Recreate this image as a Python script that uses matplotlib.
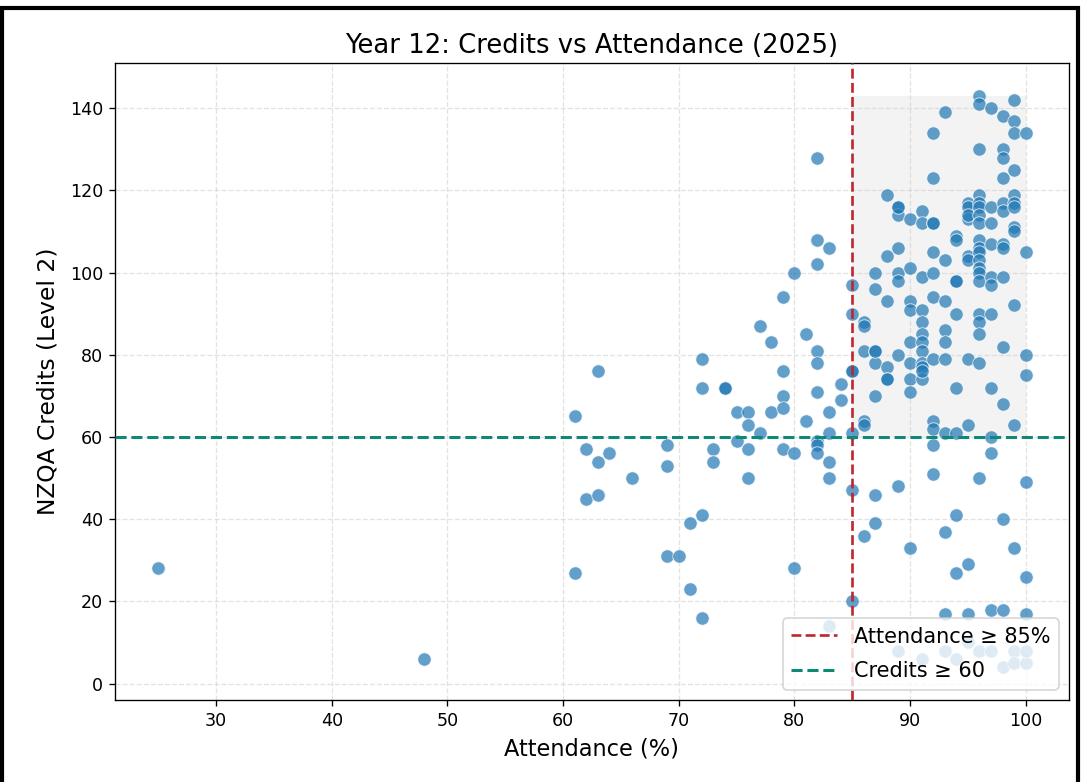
import matplotlib
matplotlib.use("Agg")
import matplotlib.pyplot as plt
from matplotlib.patches import Rectangle

# ---- data (attendance %, credits) ----
attendance = [
    25, 48,
    61, 61, 62, 62, 63, 63, 63, 64, 66,
    69, 69, 69, 70, 71, 71, 72, 72, 72, 72, 73, 73, 74, 74,
    75, 75, 76, 76, 76, 76, 77, 77, 78, 78,
    79, 79, 79, 79, 79, 80, 80, 80, 81, 81,
    82, 82, 82, 82, 82, 82, 82, 82, 82,
    83, 83, 83, 83, 83, 83, 84, 84,
    85, 85, 85, 85, 85, 85, 85,
    86, 86, 86, 86, 86, 86,
    87, 87, 87, 87, 87, 87, 87, 87,
    88, 88, 88, 88, 88, 88,
    89, 89, 89, 89, 89, 89, 89, 89, 89,
    90, 90, 90, 90, 90, 90, 90, 90, 90,
    91, 91, 91, 91, 91, 91, 91, 91, 91, 91, 91, 91, 91,
    92, 92, 92, 92, 92, 92, 92, 92, 92, 92, 92, 92,
    93, 93, 93, 93, 93, 93, 93, 93, 93, 93,
    94, 94, 94, 94, 94, 94, 94, 94, 94, 94,
    95, 95, 95, 95, 95, 95, 95, 95, 95, 95, 95,
    96, 96, 96, 96, 96, 96, 96, 96, 96, 96, 96, 96, 96, 96, 96, 96, 96, 96, 96, 96, 96,
    97, 97, 97, 97, 97, 97, 97, 97, 97, 97, 97, 97,
    98, 98, 98, 98, 98, 98, 98, 98, 98, 98, 98, 98, 98, 98,
    99, 99, 99, 99, 99, 99, 99, 99, 99, 99, 99, 99, 99, 99,
    100, 100, 100, 100, 100, 100, 100, 100, 100,
]
credits = [
    28, 6,
    65, 27, 57, 45, 76, 54, 46, 56, 50,
    58, 53, 31, 31, 39, 23, 79, 41, 16, 72, 57, 54, 72, 72,
    66, 59, 66, 63, 57, 50, 87, 61, 83, 66,
    94, 76, 70, 67, 57, 100, 56, 28, 85, 64,
    128, 108, 102, 81, 78, 71, 59, 58, 56,
    106, 66, 61, 54, 50, 14, 73, 69,
    97, 90, 76, 61, 47, 20, 76,
    88, 87, 81, 64, 63, 36,
    100, 96, 81, 78, 70, 46, 39, 81,
    119, 104, 93, 77, 74, 74,
    116, 114, 106, 100, 98, 80, 48, 8, 116,
    113, 101, 93, 91, 83, 78, 74, 71, 33,
    115, 112, 99, 91, 88, 85, 83, 81, 78, 77, 74, 6, 76,
    134, 123, 112, 105, 100, 94, 79, 64, 62, 58, 51, 112,
    139, 103, 93, 86, 83, 79, 61, 37, 17, 8,
    109, 108, 98, 90, 72, 61, 41, 27, 6, 98,
    117, 116, 113, 104, 103, 79, 29, 17, 10, 114, 63,
    143, 141, 130, 119, 117, 116, 114, 112, 108, 106, 105, 103, 101, 100, 98, 90, 88, 85, 78, 50, 8,
    140, 116, 112, 107, 99, 97, 90, 72, 60, 56, 18, 8,
    138, 130, 128, 123, 117, 115, 107, 106, 99, 82, 68, 40, 18, 4,
    142, 137, 134, 125, 119, 117, 116, 111, 110, 92, 63, 33, 8, 5,
    134, 105, 80, 75, 49, 26, 17, 5, 8,
]

attendance_threshold = 85
credits_threshold = 60
title = "Year 12: Credits vs Attendance (2025)"
xlabel = "Attendance (%)"
ylabel = "NZQA Credits (Level 2)"
legend_labels = ["Attendance \u2265 85%", "Credits \u2265 60"]

DPI = 120
fig = plt.figure(figsize=(1081 / DPI, 782 / DPI), dpi=DPI)
ax = fig.add_axes([115 / 1081, 1 - 700 / 782, (1069 - 115) / 1081, (700 - 63) / 782])

# shaded "target" region
ax.add_patch(Rectangle((attendance_threshold, credits_threshold),
                       max(attendance) - attendance_threshold,
                       max(credits) - credits_threshold,
                       facecolor="#9e9e9e", alpha=0.12, edgecolor="none", zorder=0))

ax.scatter(attendance, credits, s=65, color="#1f77b4", alpha=0.7,
           edgecolors="white", linewidths=0.6, zorder=2)

l1 = ax.axvline(attendance_threshold, color="#c0272d", linestyle="--", linewidth=1.6,
                label=legend_labels[0], zorder=3)
l2 = ax.axhline(credits_threshold, color="#0b8a76", linestyle="--", linewidth=1.8,
                label=legend_labels[1], zorder=3)

ax.set_xlim(21.25, 103.75)
ax.set_ylim(-4, 151)
ax.set_xticks([30, 40, 50, 60, 70, 80, 90, 100])
ax.set_yticks([0, 20, 40, 60, 80, 100, 120, 140])
ax.grid(True, linestyle="--", color="#c8c8c8", alpha=0.5, linewidth=0.8)
ax.set_axisbelow(True)
ax.tick_params(labelsize=10.5)

ax.set_title(title, fontsize=15.5, pad=6)
ax.set_xlabel(xlabel, fontsize=13.5, labelpad=5)
ax.set_ylabel(ylabel, fontsize=14, labelpad=6)

ax.legend(handles=[l1, l2], loc="lower right", fontsize=12.5, framealpha=0.8,
          handlelength=2.2, labelspacing=0.7)

# screenshot frame
fig.patches.append(Rectangle((2 / 1081, -0.05), (1078 - 2) / 1081, 1.05 - 8 / 782,
                             transform=fig.transFigure, fill=False,
                             edgecolor="black", linewidth=2.5))

fig.savefig("out.png", dpi=DPI)
